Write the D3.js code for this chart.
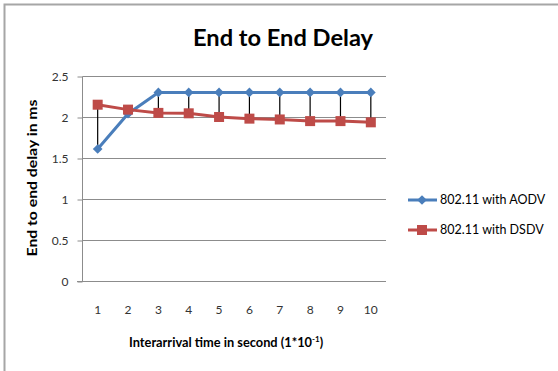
<!DOCTYPE html>
<html><head><meta charset="utf-8">
<script src="https://cdn.jsdelivr.net/npm/d3@7"></script>
<style>body{margin:0;background:#fff}svg{display:block}</style>
</head><body>
<svg id="c" width="558" height="371"></svg>
<script>
const categories = [1,2,3,4,5,6,7,8,9,10];
const aodv = [1.61,2.04,2.30,2.30,2.30,2.30,2.30,2.30,2.30,2.30];
const dsdv = [2.15,2.09,2.05,2.045,2.00,1.98,1.97,1.95,1.95,1.935];
const yTicks = [0,0.5,1,1.5,2,2.5];
const seriesNames = ["802.11 with AODV","802.11 with DSDV"];

const svg = d3.select("#c");
const font = "Lato, 'Open Sans', 'Liberation Sans', sans-serif";
// chart border
svg.append("path").attr("d","M4.5,371 V4.5 H558").attr("fill","none").attr("stroke","#a6a6a6").attr("stroke-width",2);

const x = d3.scaleBand().domain(categories).range([82.5,386]);
const y = d3.scaleLinear().domain([0,2.5]).range([281,76]);
const cx = d => x(d)+x.bandwidth()/2;

// gridlines
svg.append("g").selectAll("line").data(yTicks.filter(t=>t>0)).join("line")
  .attr("x1",82.5).attr("x2",386).attr("y1",d=>Math.round(y(d))+0.5).attr("y2",d=>Math.round(y(d))+0.5)
  .attr("stroke","#8c8c8c").attr("stroke-width",1);

// y axis
const ya = svg.append("g").attr("transform","translate(82.5,0.5)")
  .call(d3.axisLeft(y).tickValues(yTicks).tickSize(5).tickFormat(d3.format("")));
ya.select(".domain").attr("stroke","#8c8c8c").attr("d","M0,76V281");
ya.selectAll(".tick line").attr("stroke","#8c8c8c");
ya.selectAll(".tick text").attr("x",-14).attr("font-family",font).attr("font-size",12).attr("fill","#333");

// x axis
const xa = svg.append("g").attr("transform","translate(0,281.5)")
  .call(d3.axisBottom(x).tickSize(0).tickPadding(0));
xa.select(".domain").attr("stroke","#8c8c8c").attr("d","M77,0H386");
xa.selectAll(".tick text").attr("y",32).attr("dy",0).attr("font-family",font).attr("font-size",12).attr("fill","#333");

// high-low lines
svg.append("g").selectAll("line").data(categories).join("line")
  .attr("x1",(d)=>cx(d)).attr("x2",(d)=>cx(d))
  .attr("y1",(d,i)=>y(Math.max(aodv[i],dsdv[i]))).attr("y2",(d,i)=>y(Math.min(aodv[i],dsdv[i])))
  .attr("stroke","#000").attr("stroke-width",1.2);

const line = d3.line().x((d,i)=>cx(categories[i])).y(d=>y(d));
const blue="#4a7ebb", red="#be4b48";
svg.append("path").datum(aodv).attr("d",line).attr("fill","none").attr("stroke",blue).attr("stroke-width",3);
svg.append("path").datum(dsdv).attr("d",line).attr("fill","none").attr("stroke",red).attr("stroke-width",3);
const diamond = d3.symbol().type(d3.symbolDiamond2).size(60);
svg.append("g").selectAll("path").data(aodv).join("path")
  .attr("d",diamond).attr("transform",(d,i)=>`translate(${cx(categories[i])},${y(d)})`).attr("fill",blue);
svg.append("g").selectAll("rect").data(dsdv).join("rect")
  .attr("x",(d,i)=>cx(categories[i])-5).attr("y",d=>y(d)-5).attr("width",10).attr("height",10).attr("fill",red);

// title
svg.append("text").attr("x",283).attr("y",46).attr("text-anchor","middle")
  .attr("font-family",font).attr("font-weight","bold").attr("font-size",23).attr("fill","#000")
  .attr("textLength",180).attr("lengthAdjust","spacingAndGlyphs").text("End to End Delay");

// x title
const xt = svg.append("text").attr("x",129).attr("y",347)
  .attr("font-family",font).attr("font-weight","bold").attr("font-size",12.5).attr("fill","#000");
xt.append("tspan").attr("textLength",183).attr("lengthAdjust","spacingAndGlyphs").text("Interarrival time in second (1*10");
xt.append("tspan").attr("dy",-5).attr("font-size",8).text("-1");
xt.append("tspan").attr("dy",5).text(")");

// y title
svg.append("text").attr("transform","translate(37,178) rotate(-90)").attr("text-anchor","middle")
  .attr("font-family",font).attr("font-weight","bold").attr("font-size",12.5).attr("fill","#000")
  .attr("textLength",157).attr("lengthAdjust","spacingAndGlyphs")
  .text("End to end delay in ms");

// legend
const lg = svg.append("g");
const ly = [200,230];
lg.append("line").attr("x1",408).attr("x2",437).attr("y1",ly[0]).attr("y2",ly[0]).attr("stroke",blue).attr("stroke-width",3);
lg.append("path").attr("d",diamond).attr("transform",`translate(422,${ly[0]})`).attr("fill",blue);
lg.append("line").attr("x1",408).attr("x2",437).attr("y1",ly[1]).attr("y2",ly[1]).attr("stroke",red).attr("stroke-width",3);
lg.append("rect").attr("x",417).attr("y",ly[1]-5).attr("width",10).attr("height",10).attr("fill",red);
lg.selectAll("text").data(seriesNames).join("text").attr("x",440).attr("y",(d,i)=>ly[i]+4)
  .attr("font-family",font).attr("font-size",12.5).attr("fill","#000").text(d=>d);
</script>
</body></html>
